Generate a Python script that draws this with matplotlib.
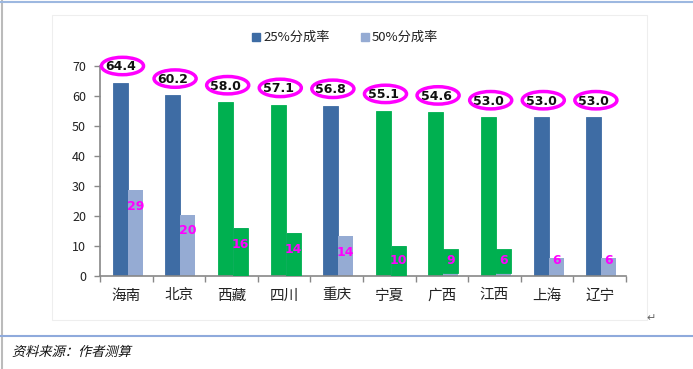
import matplotlib
matplotlib.use("Agg")
import matplotlib.pyplot as plt
from matplotlib.patches import Ellipse, Rectangle, PathPatch
from matplotlib.lines import Line2D
from matplotlib.textpath import TextPath
from matplotlib.font_manager import FontProperties
from matplotlib.transforms import Affine2D
import numpy as np

plt.rcParams['font.family'] = ['Noto Sans CJK SC', 'DejaVu Sans']

categories = ['海南', '北京', '西藏', '四川', '重庆', '宁夏', '广西', '江西', '上海', '辽宁']
rate25 = [64.4, 60.2, 58.0, 57.1, 56.8, 55.1, 54.6, 53.0, 53.0, 53.0]
rate50 = [28.7, 20.5, 15.9, 14.2, 13.3, 10.1, 1.0, 1.0, 5.9, 5.9]
highlight_box = [0, 0, 15.9, 14.2, 0, 10.1, 7.9, 7.9, 0, 0]   # green overlay height on 2nd bar
highlight_base = [0, 0, 0, 0, 0, 0, 1.0, 1.0, 0, 0]
highlighted = [False, False, True, True, False, True, True, True, False, False]
top_labels = ['64.4', '60.2', '58.0', '57.1', '56.8', '55.1', '54.6', '53.0', '53.0', '53.0']
inner_labels = ['29', '20', '16', '14', '14', '10', '9', '6', '6', '6']
yticks = [0, 10, 20, 30, 40, 50, 60, 70]

DARK = '#3E6CA4'
LIGHT = '#95ABD3'
GREEN = '#00B050'
MAG = '#FF00FF'

fig = plt.figure(figsize=(6.93, 3.69), dpi=100)
ax = fig.add_axes([100/693, 1-276/369, 526/693, 210/369])

x = np.arange(len(categories))
w = 0.285
c1 = [GREEN if h else DARK for h in highlighted]
x1 = x - w/2 + 0.03
x2 = x + w/2 + 0.03
ax.bar(x1, rate25, width=w, color=c1, edgecolor=c1, linewidth=0.6, zorder=2)
ax.bar(x2, rate50, width=w, color=LIGHT, linewidth=0, zorder=2)
ax.bar(x2, highlight_box, bottom=highlight_base, width=w,
       color=[GREEN if h else (0, 0, 0, 0) for h in highlighted],
       edgecolor=[GREEN if h else (0, 0, 0, 0) for h in highlighted],
       linewidth=0.6, zorder=3)

for i in range(len(categories)):
    ax.text(x1[i], rate25[i] + 5.3, top_labels[i], ha='center', va='center',
            fontsize=9, fontweight='bold', color='#111111', zorder=5,
            family=['DejaVu Sans'])
    ax.add_patch(Ellipse((x1[i] + 0.04, rate25[i] + 5.6), 0.8, 5.8, fill=False,
                         edgecolor=MAG, lw=2.5, zorder=6, clip_on=False))
    top2 = max(rate50[i], highlight_base[i] + highlight_box[i])
    ly = max(top2 - 5.4, 5.0)
    ax.text(x2[i], ly, inner_labels[i], ha='center', va='center', fontsize=9,
            fontweight='bold', color=MAG, zorder=5, family=['DejaVu Sans'])

ax.set_xlim(-0.5, len(categories) - 0.5)
ax.set_ylim(0, 70)
ax.set_yticks(yticks)
ax.set_yticklabels([str(t) for t in yticks], fontsize=9, color='#222222')
ax.set_xticks(x)
ax.set_xticklabels(categories, fontsize=10.5, color='#222222')
ax.tick_params(axis='x', length=0, pad=9)
ax.set_xticks(np.arange(-0.5, len(categories), 1.0), minor=True)
ax.tick_params(axis='x', which='minor', length=4, color='#888888', width=1)
ax.tick_params(axis='y', length=4, color='#888888', width=1, pad=6)
for s in ['top', 'right']:
    ax.spines[s].set_visible(False)
for s in ['left', 'bottom']:
    ax.spines[s].set_color('#888888')
    ax.spines[s].set_linewidth(1.2)

# legend
fig.patches.append(Rectangle((252/693, 1-41/369), 8/693, 8/369, color=DARK, transform=fig.transFigure))
fig.text(263/693, 1-37/369, '25%分成率', fontsize=9.5, va='center', color='#222222')
fig.patches.append(Rectangle((361/693, 1-41/369), 8/693, 8/369, color=LIGHT, transform=fig.transFigure))
fig.text(372/693, 1-37/369, '50%分成率', fontsize=9.5, va='center', color='#222222')

# chart area frame (faint)
fig.patches.append(Rectangle((52/693, 1-320/369), 595/693, 305/369, fill=False,
                             edgecolor='#EEEEEE', lw=0.8, transform=fig.transFigure))
# page borders
fig.add_artist(Line2D([2/693, 2/693], [0, 1], color='#BBBBBB', lw=1.5))
fig.add_artist(Line2D([0, 1], [1-1.5/369, 1-1.5/369], color='#9DB8E0', lw=1.5))
fig.add_artist(Line2D([0, 1], [1-336/369, 1-336/369], color='#8FAADC', lw=1.5))

# italic (sheared) footer text
fp = FontProperties(family='Noto Sans CJK SC', size=9.5)
tp = TextPath((0, 0), '资料来源：作者测算', prop=fp)
tr = Affine2D().scale(100/72).skew_deg(14, 0).translate(12, 369 - 356)
fig.patches.append(PathPatch(tr.transform_path(tp), facecolor='#111111',
                             edgecolor='none', transform=None))
fig.text(646/693, 1-318/369, '↵', fontsize=8, va='center', color='#666666',
         family=['DejaVu Sans'])

fig.savefig('out.png', dpi=100)
